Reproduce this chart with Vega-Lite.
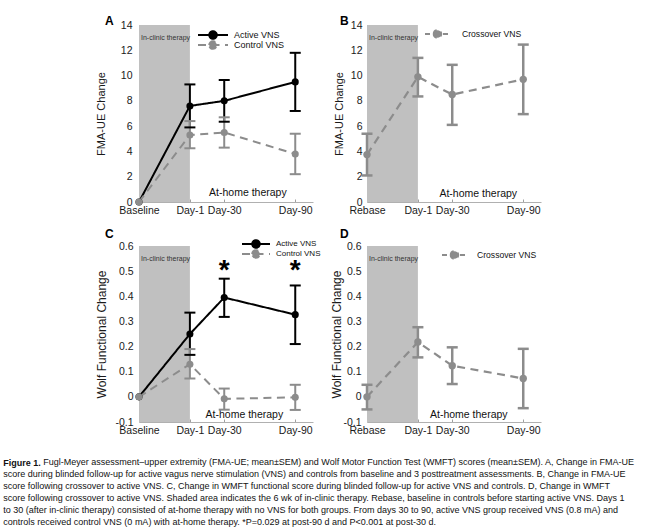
{
"$schema": "https://vega.github.io/schema/vega-lite/v6.json",
"background": "white",
"padding": {"left": 3, "top": 15, "right": 0, "bottom": 0},
"datasets": {
 "therapy": [{"phase": "In-clinic therapy", "start": -42, "end": 1}],
 "fmaA": [
  {"group": "Active VNS", "day": -42, "mean": 0, "lo": null, "hi": null},
  {"group": "Active VNS", "day": 1, "mean": 7.6, "lo": 5.9, "hi": 9.3},
  {"group": "Active VNS", "day": 30, "mean": 8.0, "lo": 6.35, "hi": 9.65},
  {"group": "Active VNS", "day": 90, "mean": 9.5, "lo": 7.2, "hi": 11.8},
  {"group": "Control VNS", "day": -42, "mean": 0, "lo": null, "hi": null},
  {"group": "Control VNS", "day": 1, "mean": 5.3, "lo": 4.25, "hi": 6.4},
  {"group": "Control VNS", "day": 30, "mean": 5.5, "lo": 4.3, "hi": 6.7},
  {"group": "Control VNS", "day": 90, "mean": 3.8, "lo": 2.2, "hi": 5.4}
 ],
 "fmaB": [
  {"group": "Crossover VNS", "day": -42, "mean": 3.75, "lo": 2.1, "hi": 5.4},
  {"group": "Crossover VNS", "day": 1, "mean": 9.9, "lo": 8.35, "hi": 11.4},
  {"group": "Crossover VNS", "day": 30, "mean": 8.5, "lo": 6.1, "hi": 10.85},
  {"group": "Crossover VNS", "day": 90, "mean": 9.7, "lo": 6.95, "hi": 12.45}
 ],
 "wolfC": [
  {"group": "Active VNS", "day": -42, "mean": 0, "lo": null, "hi": null},
  {"group": "Active VNS", "day": 1, "mean": 0.25, "lo": 0.167, "hi": 0.335},
  {"group": "Active VNS", "day": 30, "mean": 0.395, "lo": 0.318, "hi": 0.47},
  {"group": "Active VNS", "day": 90, "mean": 0.327, "lo": 0.21, "hi": 0.443},
  {"group": "Control VNS", "day": -42, "mean": 0, "lo": null, "hi": null},
  {"group": "Control VNS", "day": 1, "mean": 0.13, "lo": 0.073, "hi": 0.19},
  {"group": "Control VNS", "day": 30, "mean": -0.008, "lo": -0.051, "hi": 0.033},
  {"group": "Control VNS", "day": 90, "mean": -0.002, "lo": -0.052, "hi": 0.048}
 ],
 "wolfD": [
  {"group": "Crossover VNS", "day": -42, "mean": 0, "lo": -0.05, "hi": 0.048},
  {"group": "Crossover VNS", "day": 1, "mean": 0.218, "lo": 0.157, "hi": 0.277},
  {"group": "Crossover VNS", "day": 30, "mean": 0.124, "lo": 0.051, "hi": 0.197},
  {"group": "Crossover VNS", "day": 90, "mean": 0.073, "lo": -0.045, "hi": 0.191}
 ],
 "sig": [{"day": 30, "label": "*"}, {"day": 90, "label": "*"}]
},
"title": {
 "text": "Figure 1.",
 "subtitle": [
  "\u200b\u00a0\u200b\u00a0\u200b\u00a0\u200b\u00a0\u200b\u00a0\u200b\u00a0\u200b\u00a0\u200b\u00a0\u200b\u00a0\u200b\u00a0\u200b\u00a0\u200b\u00a0\u200b\u00a0\u200b\u00a0\u200b\u00a0\u200b\u00a0\u200bFugl-Meyer assessment\u2013upper extremity (FMA-UE; mean\u00b1SEM) and Wolf Motor Function Test (WMFT) scores (mean\u00b1SEM). A, Change in FMA-UE",
  "score during blinded follow-up for active vagus nerve stimulation (VNS) and controls from baseline and 3 posttreatment assessments. B, Change in FMA-UE",
  "score following crossover to active VNS. C, Change in WMFT functional score during blinded follow-up for active VNS and controls. D, Change in WMFT",
  "score following crossover to active VNS. Shaded area indicates the 6 wk of in-clinic therapy. Rebase, baseline in controls before starting active VNS. Days 1",
  "to 30 (after in-clinic therapy) consisted of at-home therapy with no VNS for both groups. From days 30 to 90, active VNS group received VNS (0.8 mA) and",
  "controls received control VNS (0 mA) with at-home therapy. *P=0.029 at post-90 d and P<0.001 at post-30 d."
 ],
 "orient": "bottom", "anchor": "start", "dx": -92, "offset": 23,
 "font": "Liberation Sans", "fontSize": 9, "fontWeight": "bold", "color": "#111111",
 "subtitleFont": "Liberation Sans", "subtitleFontSize": 9, "subtitleFontWeight": "normal", "subtitleColor": "#111111",
 "subtitleLineHeight": 12, "subtitlePadding": -10
},
"columns": 2,
"spacing": {"row": 44, "column": 54},
"bounds": "flush",
"resolve": {"scale": {"color": "independent", "strokeDash": "independent"}, "legend": {"color": "independent", "strokeDash": "independent"}},
"concat": [
 {
  "width": 174, "height": 177,
  "title": {"text": "A", "anchor": "start", "frame": "group", "dx": -34, "offset": -17.2, "baseline": "alphabetic", "fontSize": 12, "fontWeight": "bold", "color": "#000000"},
  "layer": [
   {"data": {"name": "therapy"}, "mark": {"type": "rect", "color": "#c0c0c0"},
    "encoding": {"x": {"field": "start", "type": "quantitative", "title": null}, "x2": {"field": "end"}, "y": {"datum": 0, "type": "quantitative"}, "y2": {"datum": 14}}},
   {"data": {"name": "therapy"}, "mark": {"type": "text", "align": "left", "baseline": "middle", "dx": 2, "fontSize": 7, "color": "#333333"},
    "encoding": {"x": {"field": "start", "type": "quantitative", "title": null}, "y": {"datum": 13}, "text": {"field": "phase"}}},
   {"data": {"values": [{"label": "At-home therapy"}]}, "mark": {"type": "text", "align": "center", "baseline": "middle", "fontSize": 10.5, "color": "#111111"},
    "encoding": {"x": {"datum": 50}, "y": {"datum": 0.7}, "text": {"field": "label"}}},
   {"data": {"name": "fmaA"},
    "encoding": {
     "x": {"field": "day", "type": "quantitative", "title": null, "scale": {"domain": [-42, 105], "nice": false, "zero": false},
       "axis": {"values": [-42, 1, 30, 90], "labelExpr": "datum.value < 0 ? 'Baseline' : 'Day-' + datum.value", "tickSize": -3, "labelPadding": 6, "labelOverlap": false, "labelBound": false, "labelFlush": false}},
     "color": {"field": "group", "type": "nominal", "scale": {"domain": ["Active VNS", "Control VNS"], "range": ["#000000", "#8c8c8c"]},
       "legend": {"title": null, "orient": "none", "legendX": 58, "legendY": 5, "direction": "vertical", "padding": 0, "clipHeight": 10, "rowPadding": 0,
        "symbolType": "M-1,0H1M-0.25,0A0.25,0.25,0,1,1,0.25,0A0.25,0.25,0,1,1,-0.25,0Z", "symbolSize": 900, "symbolStrokeWidth": 2, "symbolOpacity": 1,
        "labelFont": "Liberation Sans", "labelFontSize": 9, "labelColor": "#111111", "labelOffset": 5,
        "encode": {"symbols": {"update": {
          "fill": {"signal": "datum.value === 'Active VNS' ? '#000000' : '#8c8c8c'"},
          "stroke": {"signal": "datum.value === 'Active VNS' ? '#000000' : '#8c8c8c'"},
          "strokeDash": {"signal": "datum.value === 'Active VNS' ? [1,0] : [6,5]"}}}}}}
    },
    "layer": [
     {"mark": {"type": "rule", "strokeWidth": 2}, "encoding": {"y": {"field": "lo", "type": "quantitative", "title": "FMA-UE Change"}, "y2": {"field": "hi"}}},
     {"mark": {"type": "tick", "orient": "horizontal", "size": 11, "thickness": 2, "opacity": 1}, "encoding": {"y": {"field": "lo", "type": "quantitative", "title": "FMA-UE Change"}}},
     {"mark": {"type": "tick", "orient": "horizontal", "size": 11, "thickness": 2, "opacity": 1}, "encoding": {"y": {"field": "hi", "type": "quantitative", "title": "FMA-UE Change"}}},
     {"mark": {"type": "line", "strokeWidth": 2}, "encoding": {
       "y": {"field": "mean", "type": "quantitative", "title": "FMA-UE Change", "scale": {"domain": [0, 14], "nice": false, "zero": false},
         "axis": {"tickCount": 8, "ticks": false, "domain": false, "labelOverlap": false, "labelPadding": 7, "titlePadding": 14, "titleFontSize": 11}},
       "strokeDash": {"field": "group", "type": "nominal", "scale": {"domain": ["Active VNS", "Control VNS"], "range": [[1, 0], [8, 5.5]]}, "legend": null}}},
     {"mark": {"type": "point", "filled": true, "size": 50, "opacity": 1}, "encoding": {"y": {"field": "mean", "type": "quantitative", "title": "FMA-UE Change"}}}
    ]
   }
  ]
 },
 {
  "width": 174, "height": 177,
  "title": {"text": "B", "anchor": "start", "frame": "group", "dx": -27, "offset": -17.2, "baseline": "alphabetic", "fontSize": 12, "fontWeight": "bold", "color": "#000000"},
  "layer": [
   {"data": {"name": "therapy"}, "mark": {"type": "rect", "color": "#c0c0c0"},
    "encoding": {"x": {"field": "start", "type": "quantitative", "title": null}, "x2": {"field": "end"}, "y": {"datum": 0, "type": "quantitative"}, "y2": {"datum": 14}}},
   {"data": {"name": "therapy"}, "mark": {"type": "text", "align": "left", "baseline": "middle", "dx": 2, "fontSize": 7, "color": "#333333"},
    "encoding": {"x": {"field": "start", "type": "quantitative", "title": null}, "y": {"datum": 13}, "text": {"field": "phase"}}},
   {"data": {"values": [{"label": "At-home therapy"}]}, "mark": {"type": "text", "align": "center", "baseline": "middle", "fontSize": 10.5, "color": "#111111"},
    "encoding": {"x": {"datum": 52}, "y": {"datum": 0.65}, "text": {"field": "label"}}},
   {"data": {"name": "fmaB"},
    "encoding": {
     "x": {"field": "day", "type": "quantitative", "title": null, "scale": {"domain": [-42, 105], "nice": false, "zero": false},
       "axis": {"values": [-42, 1, 30, 90], "labelExpr": "datum.value < 0 ? 'Rebase' : 'Day-' + datum.value", "tickSize": -3, "labelPadding": 6, "labelOverlap": false, "labelBound": false, "labelFlush": false}},
     "color": {"field": "group", "type": "nominal", "scale": {"domain": ["Crossover VNS"], "range": ["#8c8c8c"]},
       "legend": {"title": null, "orient": "none", "legendX": 57, "legendY": 4, "direction": "vertical", "padding": 0, "clipHeight": 10, "rowPadding": 0,
        "symbolType": "M-1,0H1M-0.3,0A0.3,0.3,0,1,1,0.3,0A0.3,0.3,0,1,1,-0.3,0Z", "symbolSize": 625, "symbolStrokeWidth": 2, "symbolOpacity": 1,
        "labelFont": "Liberation Sans", "labelFontSize": 8.6, "labelColor": "#111111", "labelOffset": 11,
        "encode": {"symbols": {"update": {
          "fill": {"value": "#8c8c8c"}, "stroke": {"value": "#8c8c8c"}, "strokeDash": {"value": [5, 4]}}}}}}
    },
    "layer": [
     {"mark": {"type": "rule", "strokeWidth": 2.5}, "encoding": {"y": {"field": "lo", "type": "quantitative", "title": "FMA-UE Change"}, "y2": {"field": "hi"}}},
     {"mark": {"type": "tick", "orient": "horizontal", "size": 11, "thickness": 2.5, "opacity": 1}, "encoding": {"y": {"field": "lo", "type": "quantitative", "title": "FMA-UE Change"}}},
     {"mark": {"type": "tick", "orient": "horizontal", "size": 11, "thickness": 2.5, "opacity": 1}, "encoding": {"y": {"field": "hi", "type": "quantitative", "title": "FMA-UE Change"}}},
     {"mark": {"type": "line", "strokeWidth": 2.2, "strokeDash": [8, 5.5]}, "encoding": {
       "y": {"field": "mean", "type": "quantitative", "title": "FMA-UE Change", "scale": {"domain": [0, 14], "nice": false, "zero": false},
         "axis": {"tickCount": 8, "ticks": false, "domain": false, "labelOverlap": false, "labelPadding": 5, "titlePadding": 6, "titleFontSize": 11}}}},
     {"mark": {"type": "point", "filled": true, "size": 55, "opacity": 1}, "encoding": {"y": {"field": "mean", "type": "quantitative", "title": "FMA-UE Change"}}}
    ]
   }
  ]
 },
 {
  "width": 174, "height": 176,
  "title": {"text": "C", "anchor": "start", "frame": "group", "dx": -34, "offset": -11.4, "baseline": "alphabetic", "fontSize": 12, "fontWeight": "bold", "color": "#000000"},
  "layer": [
   {"data": {"name": "therapy"}, "mark": {"type": "rect", "color": "#c0c0c0"},
    "encoding": {"x": {"field": "start", "type": "quantitative", "title": null}, "x2": {"field": "end"}, "y": {"datum": -0.1, "type": "quantitative"}, "y2": {"datum": 0.6}}},
   {"data": {"name": "therapy"}, "mark": {"type": "text", "align": "left", "baseline": "middle", "dx": 2, "fontSize": 7, "color": "#333333"},
    "encoding": {"x": {"field": "start", "type": "quantitative", "title": null}, "y": {"datum": 0.55}, "text": {"field": "phase"}}},
   {"data": {"values": [{"label": "At-home therapy"}]}, "mark": {"type": "text", "align": "center", "baseline": "middle", "fontSize": 10.5, "color": "#111111"},
    "encoding": {"x": {"datum": 47}, "y": {"datum": -0.073}, "text": {"field": "label"}}},
   {"data": {"name": "sig"}, "mark": {"type": "text", "align": "center", "baseline": "alphabetic", "fontSize": 28, "fontWeight": "bold", "color": "#000000"},
    "encoding": {"x": {"field": "day", "type": "quantitative", "title": null}, "y": {"datum": 0.47}, "text": {"field": "label"}}},
   {"data": {"name": "wolfC"},
    "encoding": {
     "x": {"field": "day", "type": "quantitative", "title": null, "scale": {"domain": [-42, 105], "nice": false, "zero": false},
       "axis": {"values": [-42, 1, 30, 90], "labelExpr": "datum.value < 0 ? 'Baseline' : 'Day-' + datum.value", "tickSize": -3, "labelPadding": 6, "labelOverlap": false, "labelBound": false, "labelFlush": false}},
     "color": {"field": "group", "type": "nominal", "scale": {"domain": ["Active VNS", "Control VNS"], "range": ["#000000", "#8c8c8c"]},
       "legend": {"title": null, "orient": "none", "legendX": 102, "legendY": -7, "direction": "vertical", "padding": 0, "clipHeight": 10, "rowPadding": 0,
        "symbolType": "M-1,0H1M-0.27,0A0.27,0.27,0,1,1,0.27,0A0.27,0.27,0,1,1,-0.27,0Z", "symbolSize": 784, "symbolStrokeWidth": 2, "symbolOpacity": 1,
        "labelFont": "Liberation Sans", "labelFontSize": 8, "labelColor": "#111111", "labelOffset": 5,
        "encode": {"symbols": {"update": {
          "fill": {"signal": "datum.value === 'Active VNS' ? '#000000' : '#8c8c8c'"},
          "stroke": {"signal": "datum.value === 'Active VNS' ? '#000000' : '#8c8c8c'"},
          "strokeDash": {"signal": "datum.value === 'Active VNS' ? [1,0] : [6,5]"}}}}}}
    },
    "layer": [
     {"mark": {"type": "rule", "strokeWidth": 2}, "encoding": {"y": {"field": "lo", "type": "quantitative", "title": "Wolf Functional Change"}, "y2": {"field": "hi"}}},
     {"mark": {"type": "tick", "orient": "horizontal", "size": 11, "thickness": 2, "opacity": 1}, "encoding": {"y": {"field": "lo", "type": "quantitative", "title": "Wolf Functional Change"}}},
     {"mark": {"type": "tick", "orient": "horizontal", "size": 11, "thickness": 2, "opacity": 1}, "encoding": {"y": {"field": "hi", "type": "quantitative", "title": "Wolf Functional Change"}}},
     {"mark": {"type": "line", "strokeWidth": 2}, "encoding": {
       "y": {"field": "mean", "type": "quantitative", "title": "Wolf Functional Change", "scale": {"domain": [-0.1, 0.6], "nice": false, "zero": false},
         "axis": {"tickCount": 7, "labelExpr": "datum.value < 0 ? '-' + format(-datum.value, '.1~f') : format(datum.value, '.1~f')", "ticks": false, "domain": false, "labelOverlap": false, "labelPadding": 6, "titlePadding": 6, "titleFontSize": 12}},
       "strokeDash": {"field": "group", "type": "nominal", "scale": {"domain": ["Active VNS", "Control VNS"], "range": [[1, 0], [8, 5.5]]}, "legend": null}}},
     {"mark": {"type": "point", "filled": true, "size": 50, "opacity": 1}, "encoding": {"y": {"field": "mean", "type": "quantitative", "title": "Wolf Functional Change"}}}
    ]
   }
  ]
 },
 {
  "width": 174, "height": 176,
  "title": {"text": "D", "anchor": "start", "frame": "group", "dx": -27, "offset": -9.3, "baseline": "alphabetic", "fontSize": 12, "fontWeight": "bold", "color": "#000000"},
  "layer": [
   {"data": {"name": "therapy"}, "mark": {"type": "rect", "color": "#c0c0c0"},
    "encoding": {"x": {"field": "start", "type": "quantitative", "title": null}, "x2": {"field": "end"}, "y": {"datum": -0.1, "type": "quantitative"}, "y2": {"datum": 0.6}}},
   {"data": {"name": "therapy"}, "mark": {"type": "text", "align": "left", "baseline": "middle", "dx": 2, "fontSize": 7, "color": "#333333"},
    "encoding": {"x": {"field": "start", "type": "quantitative", "title": null}, "y": {"datum": 0.55}, "text": {"field": "phase"}}},
   {"data": {"values": [{"label": "At-home therapy"}]}, "mark": {"type": "text", "align": "center", "baseline": "middle", "fontSize": 10.5, "color": "#111111"},
    "encoding": {"x": {"datum": 44}, "y": {"datum": -0.073}, "text": {"field": "label"}}},
   {"data": {"name": "wolfD"},
    "encoding": {
     "x": {"field": "day", "type": "quantitative", "title": null, "scale": {"domain": [-42, 105], "nice": false, "zero": false},
       "axis": {"values": [-42, 1, 30, 90], "labelExpr": "datum.value < 0 ? 'Rebase' : 'Day-' + datum.value", "tickSize": -3, "labelPadding": 6, "labelOverlap": false, "labelBound": false, "labelFlush": false}},
     "color": {"field": "group", "type": "nominal", "scale": {"domain": ["Crossover VNS"], "range": ["#8c8c8c"]},
       "legend": {"title": null, "orient": "none", "legendX": 74, "legendY": 4, "direction": "vertical", "padding": 0, "clipHeight": 10, "rowPadding": 0,
        "symbolType": "M-1,0H1M-0.3,0A0.3,0.3,0,1,1,0.3,0A0.3,0.3,0,1,1,-0.3,0Z", "symbolSize": 625, "symbolStrokeWidth": 2, "symbolOpacity": 1,
        "labelFont": "Liberation Sans", "labelFontSize": 8.6, "labelColor": "#111111", "labelOffset": 9,
        "encode": {"symbols": {"update": {
          "fill": {"value": "#8c8c8c"}, "stroke": {"value": "#8c8c8c"}, "strokeDash": {"value": [5, 4]}}}}}}
    },
    "layer": [
     {"mark": {"type": "rule", "strokeWidth": 2.5}, "encoding": {"y": {"field": "lo", "type": "quantitative", "title": "Wolf Functional Change"}, "y2": {"field": "hi"}}},
     {"mark": {"type": "tick", "orient": "horizontal", "size": 11, "thickness": 2.5, "opacity": 1}, "encoding": {"y": {"field": "lo", "type": "quantitative", "title": "Wolf Functional Change"}}},
     {"mark": {"type": "tick", "orient": "horizontal", "size": 11, "thickness": 2.5, "opacity": 1}, "encoding": {"y": {"field": "hi", "type": "quantitative", "title": "Wolf Functional Change"}}},
     {"mark": {"type": "line", "strokeWidth": 2.2, "strokeDash": [8, 5.5]}, "encoding": {
       "y": {"field": "mean", "type": "quantitative", "title": "Wolf Functional Change", "scale": {"domain": [-0.1, 0.6], "nice": false, "zero": false},
         "axis": {"tickCount": 7, "labelExpr": "datum.value < 0 ? '-' + format(-datum.value, '.1~f') : format(datum.value, '.1~f')", "ticks": false, "domain": false, "labelOverlap": false, "labelPadding": 6, "titlePadding": -1, "titleFontSize": 12}}}},
     {"mark": {"type": "point", "filled": true, "size": 55, "opacity": 1}, "encoding": {"y": {"field": "mean", "type": "quantitative", "title": "Wolf Functional Change"}}}
    ]
   }
  ]
 }
],
"config": {
 "font": "Liberation Sans",
 "view": {"stroke": null},
 "axis": {"labelFont": "Liberation Sans", "titleFont": "Liberation Sans", "labelColor": "#1a1a1a", "titleColor": "#1a1a1a", "titleFontWeight": "normal", "labelFontSize": 10.5, "grid": false, "domainColor": "#b0b0b0", "tickColor": "#a0a0a0", "labelOverlap": false}
}
}
